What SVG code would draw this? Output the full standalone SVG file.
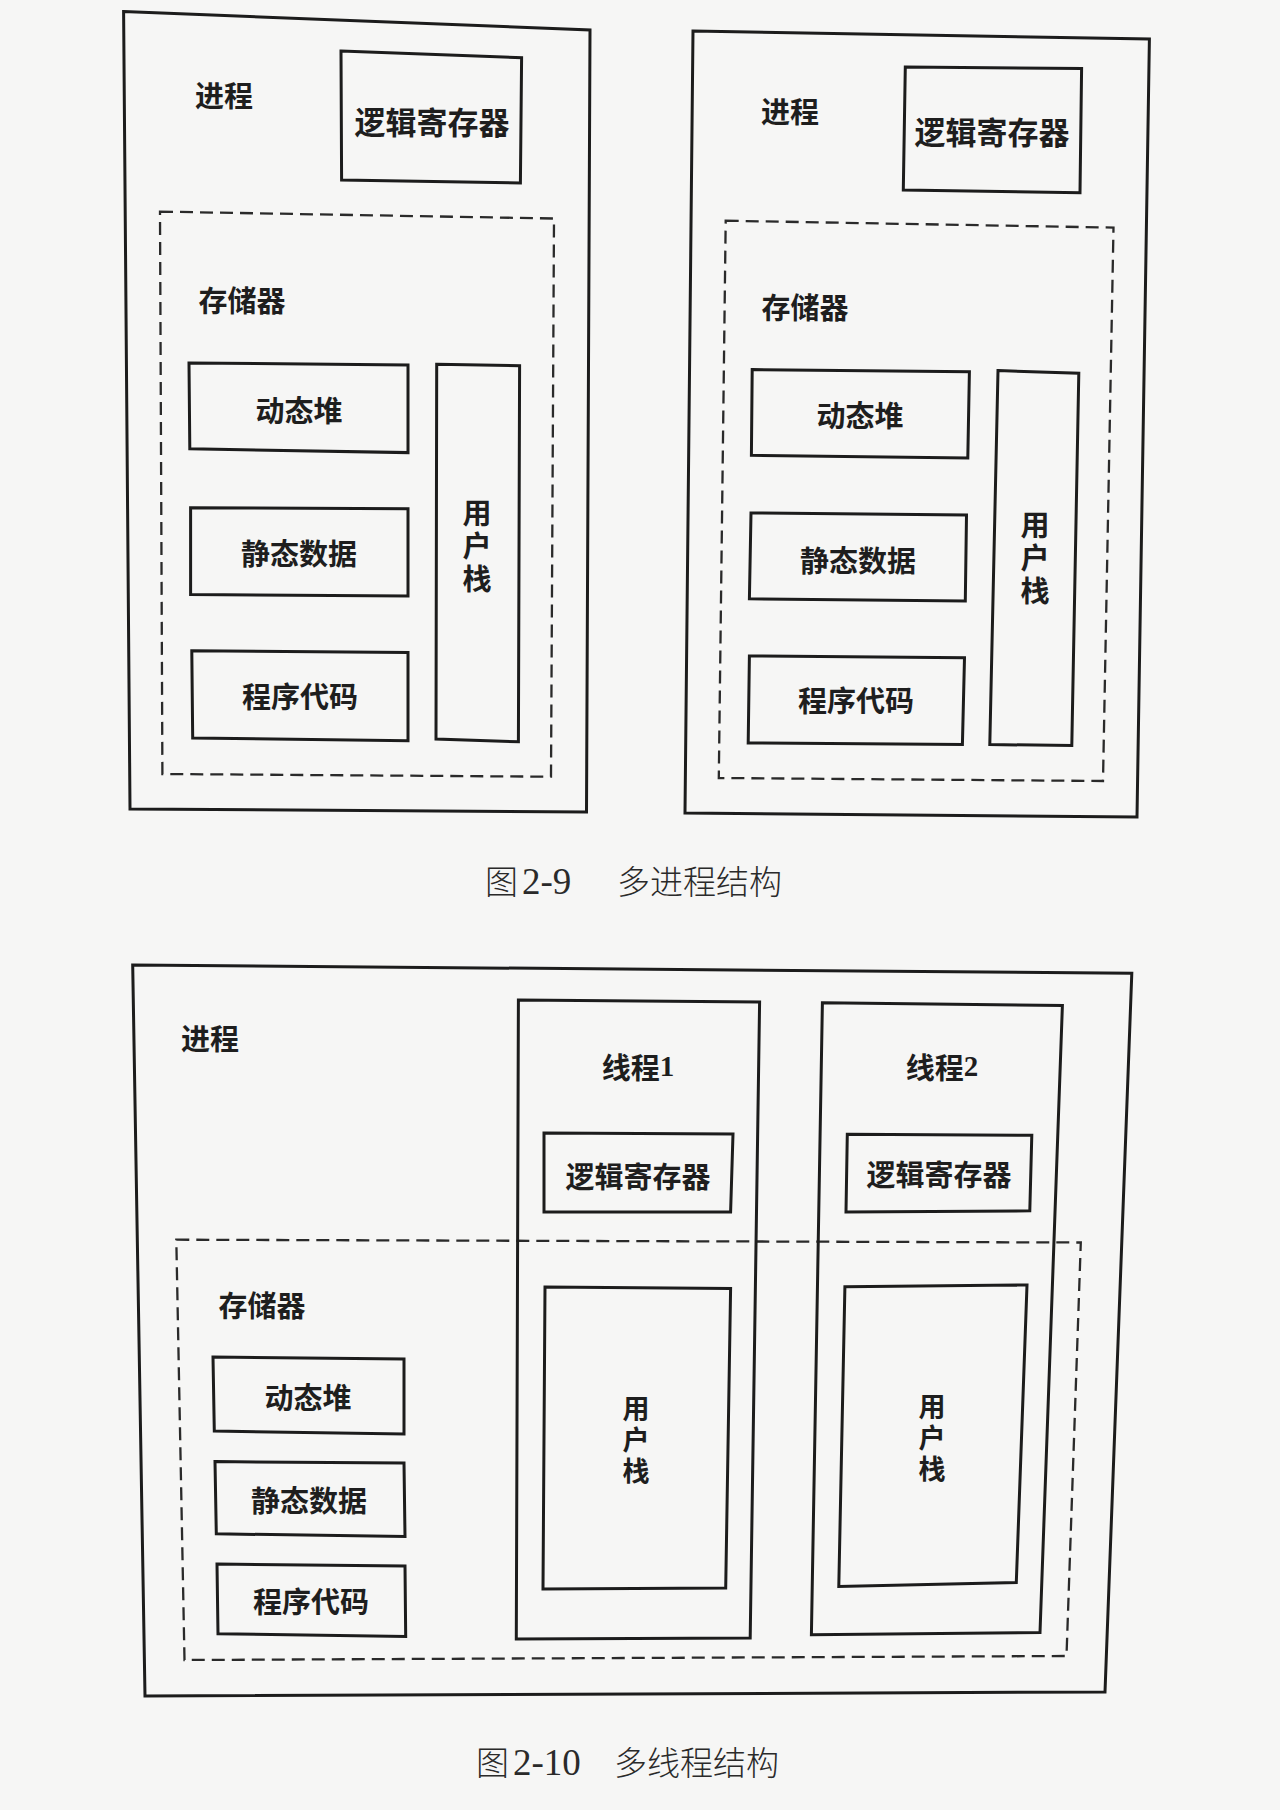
<svg xmlns="http://www.w3.org/2000/svg" width="1280" height="1810" viewBox="0 0 1280 1810">
<style>
.box{fill:none;stroke:#1c1c1c;stroke-width:3;stroke-linejoin:miter}
.dash{fill:none;stroke:#2a2a2a;stroke-width:2.3;stroke-dasharray:13 7}
.lbl{font-family:"Noto Sans CJK SC","Liberation Serif",sans-serif;font-weight:bold;font-size:29px;fill:#1e1e1e;text-anchor:middle;dominant-baseline:central}
.big{font-size:31px}
.vert{font-family:"Noto Sans CJK SC",sans-serif;font-weight:bold;font-size:29px;fill:#1e1e1e;text-anchor:middle;writing-mode:vertical-rl;letter-spacing:4px}
.vs{font-size:27px;letter-spacing:4px}
.cap{font-family:"Liberation Serif","Noto Sans CJK SC",serif;font-size:33px;fill:#2a2a2a}
.capc{font-family:"Noto Sans CJK SC",sans-serif;font-weight:300}
.num{font-family:"Liberation Serif","Noto Sans CJK SC",serif}
.cnum{font-family:"Liberation Serif","Noto Sans CJK SC",serif;font-size:37px}
</style>
<rect x="0" y="0" width="1280" height="1810" fill="#f6f6f5"/>

<!-- Figure 2-9 left process -->
<g id="fig1-process-left">
<polygon class="box" points="123.6,11.6 590,30 586.5,812 130,809"/>
<text class="lbl" x="224" y="94">进程</text>
</g>
<g id="fig1-left-register">
<polygon class="box" points="341,51 521.6,57.8 520.4,183 341.6,180"/>
<text class="lbl big" x="432" y="120">逻辑寄存器</text>
</g>
<g id="fig1-left-storage">
<polygon class="dash" points="160,211.6 554,218.5 551,776.7 162.4,774"/>
<text class="lbl" x="242" y="299">存储器</text>
</g>
<g id="fig1-left-heap">
<polygon class="box" points="189,363 408,365 408,452.6 189.8,448.8"/>
<text class="lbl" x="299" y="409">动态堆</text>
</g>
<g id="fig1-left-static">
<polygon class="box" points="190.6,507.8 408,508.8 408,596 190.6,594.5"/>
<text class="lbl" x="299" y="552">静态数据</text>
</g>
<g id="fig1-left-code">
<polygon class="box" points="191.8,650.8 408,652.4 408,740.7 192.7,738"/>
<text class="lbl" x="300" y="695">程序代码</text>
</g>
<g id="fig1-left-stack">
<polygon class="box" points="436.7,364.2 519.6,365.8 518.4,741.8 436,739"/>
<text class="vert" x="477" y="548">用户栈</text>
</g>

<!-- Figure 2-9 right process -->
<g id="fig1-process-right">
<polygon class="box" points="693,31 1149.4,39 1137,817 685,813"/>
<text class="lbl" x="790" y="110">进程</text>
</g>
<g id="fig1-right-register">
<polygon class="box" points="905.3,67 1081.6,68.6 1080,192.8 903.3,190"/>
<text class="lbl big" x="992" y="130">逻辑寄存器</text>
</g>
<g id="fig1-right-storage">
<polygon class="dash" points="725.7,220.7 1113.5,227.6 1103,781 718.8,778"/>
<text class="lbl" x="805" y="306">存储器</text>
</g>
<g id="fig1-right-heap">
<polygon class="box" points="752.2,369.6 969.4,371.7 967.8,458 751.4,455.3"/>
<text class="lbl" x="860" y="414">动态堆</text>
</g>
<g id="fig1-right-static">
<polygon class="box" points="751,513 966.5,515 965.3,601 749.4,598.8"/>
<text class="lbl" x="858" y="559">静态数据</text>
</g>
<g id="fig1-right-code">
<polygon class="box" points="749.4,656 964.5,657.7 962.4,744.5 748.2,743"/>
<text class="lbl" x="856" y="699">程序代码</text>
</g>
<g id="fig1-right-stack">
<polygon class="box" points="998,370.6 1078.8,373.3 1071.8,745.6 989.8,744.5"/>
<text class="vert" x="1035" y="560">用户栈</text>
</g>

<g id="caption-1">
<text class="cap" y="894"><tspan class="capc" x="485">图</tspan><tspan class="cnum" x="522">2-9</tspan><tspan class="capc" x="617">多进程结构</tspan></text>
</g>

<!-- Figure 2-10 -->
<g id="fig2-process">
<polygon class="box" points="132.7,965 1131.8,973.3 1105,1692 145,1696"/>
<text class="lbl" x="210" y="1037">进程</text>
</g>
<g id="fig2-storage">
<polygon class="dash" points="176.3,1239.7 1080.8,1242.5 1066.5,1656 184.5,1660"/>
<text class="lbl" x="262" y="1304">存储器</text>
</g>
<g id="fig2-heap">
<polygon class="box" points="213,1357 404,1359 404,1434 214.3,1431"/>
<text class="lbl" x="308" y="1396">动态堆</text>
</g>
<g id="fig2-static">
<polygon class="box" points="215,1461.6 404,1463 405,1536.6 216.3,1533.8"/>
<text class="lbl" x="309" y="1499">静态数据</text>
</g>
<g id="fig2-code">
<polygon class="box" points="217,1564 405,1566 405.7,1636.5 218,1633.7"/>
<text class="lbl" x="311" y="1600">程序代码</text>
</g>
<g id="fig2-thread1">
<polygon class="box" points="518.4,1000 759.6,1002 750.2,1638 516.3,1639"/>
<text class="lbl" x="638" y="1066">线程<tspan class="num">1</tspan></text>
</g>
<g id="fig2-thread1-register">
<polygon class="box" points="544,1133 733,1134 730.6,1212 544,1212"/>
<text class="lbl" x="638" y="1175">逻辑寄存器</text>
</g>
<g id="fig2-thread1-stack">
<polygon class="box" points="545,1287 730.6,1288.5 725.7,1588 543,1589"/>
<text class="vert vs" x="636" y="1442">用户栈</text>
</g>
<g id="fig2-thread2">
<polygon class="box" points="822.4,1002.7 1062.4,1005.5 1040,1632.5 811.4,1634.8"/>
<text class="lbl" x="942" y="1066">线程<tspan class="num">2</tspan></text>
</g>
<g id="fig2-thread2-register">
<polygon class="box" points="847.3,1134.2 1031.8,1135.3 1029.8,1210.8 846,1212"/>
<text class="lbl" x="939" y="1173">逻辑寄存器</text>
</g>
<g id="fig2-thread2-stack">
<polygon class="box" points="844.9,1286.8 1027,1285 1016.3,1582.6 838.8,1586.5"/>
<text class="vert vs" x="932" y="1440">用户栈</text>
</g>

<g id="caption-2">
<text class="cap" y="1775"><tspan class="capc" x="476">图</tspan><tspan class="cnum" x="513">2-10</tspan><tspan class="capc" x="614">多线程结构</tspan></text>
</g>

<g id="connectors"></g>
</svg>
